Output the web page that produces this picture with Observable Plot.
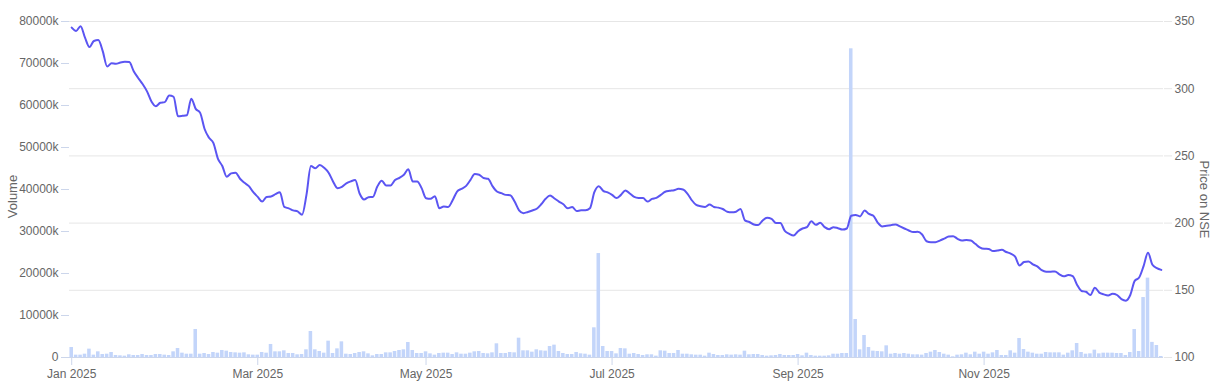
<!DOCTYPE html>
<html><head><meta charset="utf-8">
<script src="https://cdn.jsdelivr.net/npm/d3@7"></script>
<script src="https://cdn.jsdelivr.net/npm/@observablehq/plot@0.6"></script>
<style>body{margin:0;background:#fff;} #chart{width:1224px;height:390px;}</style>
</head><body><div id="chart"></div>
<script>
// Daily traded volume (thousands of shares), one per trading day
const volume = [
  2380, 560, 560, 790, 1990, 560, 1350, 710, 790, 1190,
  480, 400, 320, 640, 480, 480, 710, 480, 480, 710,
  710, 560, 480, 1350, 2140, 1030, 790, 790, 6670, 790,
  950, 710, 1190, 1030, 1670, 1510, 1190, 1110, 1030, 1110,
  640, 560, 560, 1190, 1030, 3100, 1350, 1350, 1590, 950,
  950, 640, 710, 1830, 6190, 1830, 1430, 1030, 3890, 950,
  2060, 3730, 790, 710, 950, 1190, 1350, 870, 400, 710,
  710, 1110, 1110, 1430, 1670, 1830, 3570, 1670, 950, 950,
  1350, 870, 560, 950, 1030, 1030, 710, 1110, 790, 790,
  1030, 1350, 1430, 950, 870, 1110, 3260, 950, 950, 1190,
  1110, 4600, 1590, 1590, 1270, 1830, 1590, 1510, 2620, 2940,
  1430, 950, 710, 710, 1190, 870, 790, 560, 7070, 24750,
  2620, 1430, 1430, 870, 2140, 2060, 790, 950, 710, 480,
  640, 640, 320, 1590, 1510, 950, 950, 1670, 790, 790,
  640, 560, 560, 320, 1030, 710, 480, 480, 640, 560,
  640, 560, 1510, 640, 710, 710, 480, 320, 400, 480,
  710, 480, 480, 480, 710, 400, 1030, 480, 320, 320,
  320, 400, 790, 790, 950, 950, 73500, 9050, 1830, 5240,
  2380, 1510, 1430, 1350, 2780, 790, 950, 790, 950, 790,
  640, 640, 560, 950, 1270, 1670, 1190, 790, 560, 160,
  560, 640, 1030, 640, 1270, 790, 1270, 790, 1110, 1670,
  480, 480, 1590, 1030, 4520, 1900, 1270, 1030, 790, 790,
  1190, 1110, 1110, 1110, 560, 1030, 1590, 3330, 1190, 790,
  870, 1750, 870, 1030, 1030, 1030, 950, 950, 480, 1190,
  6660, 1430, 14280, 18900, 3600, 2860, 240
];
// Closing price on NSE, one per trading day
const price = [
  345.5, 343, 346.5, 338, 331, 335.5, 336.2, 328, 316.5, 319,
  318.5, 319.5, 320, 319.8, 313, 308, 303.5, 298, 290.5, 287,
  289.5, 290, 295, 294, 279.5, 279.8, 280.3, 292.5, 285, 282,
  270, 263.5, 259.5, 248, 242.5, 234.5, 237, 237.5, 233, 230,
  227.5, 223, 219.5, 216, 219.5, 219.8, 221.5, 223, 212, 211,
  209.5, 208.7, 206.2, 221, 242.5, 240.8, 243.2, 241.2, 237.5, 231,
  226, 227, 229.5, 231, 232, 222, 217.5, 219.3, 219.5, 227.2,
  231.5, 228, 228, 232, 233.7, 236, 240, 231, 231, 226,
  218.5, 218.1, 220, 211, 212.4, 212, 217, 223.5, 225.5, 227.5,
  232, 236.5, 236, 233.5, 233, 227.5, 223.5, 222.3, 221, 220.8,
  216, 209.5, 207.4, 208.3, 209.4, 210.7, 214, 218.1, 220.5, 218.3,
  216, 214, 211, 212, 209, 209.5, 209.5, 211, 223, 227.5,
  224, 222.8, 221, 218.6, 221, 224.3, 222, 219.5, 218.7, 218.6,
  216, 218, 218.8, 221, 223.3, 224, 224.5, 225.5, 225, 222,
  217, 213.5, 212.5, 212, 213.8, 212, 211.5, 210.5, 208.5, 208.1,
  208.5, 210.5, 202, 200.8, 199, 198.5, 202, 204, 203.2, 200,
  200, 194.2, 192, 190.8, 194, 196, 197, 201.3, 198.7, 200.2,
  197, 195.5, 197, 196.2, 195.2, 196, 205.5, 206, 205, 209.4,
  206.8, 205.5, 200.2, 197.5, 198, 198.5, 199, 197.5, 196, 194.5,
  193.3, 193.5, 191.5, 186.5, 185.8, 185.8, 187, 188.5, 190, 190.3,
  188.3, 187, 187.5, 187, 184.6, 182, 180.9, 180.8, 179.2, 179.6,
  180.1, 178.5, 177.3, 175, 168.5, 171, 171.5, 169.3, 167.8, 165,
  163.8, 163.8, 164, 161.8, 160.4, 161.3, 160.5, 154, 149.5, 148.9,
  146.5, 151.9, 148.3, 147, 146.2, 147.5, 146.5, 143.5, 142.3, 146.5,
  157, 159.5, 168, 178, 169, 166.5, 165.2
];
// x-axis: trading-day index of the first session of each labelled month
const monthTickIndex = [0, 42, 80, 122, 164, 206];
const monthTickLabels = ["Jan 2025", "Mar 2025", "May 2025", "Jul 2025", "Sep 2025", "Nov 2025"];
const volumeTicks = [0, 10000, 20000, 30000, 40000, 50000, 60000, 70000, 80000];
const priceTicks = [100, 150, 200, 250, 300, 350];

const PMIN = 100, PMAX = 350, VMAX = 80000;
const volToY = v => PMIN + v / VMAX * (PMAX - PMIN);
const yToVol = y => Math.round((y - PMIN) / (PMAX - PMIN) * VMAX);
const data = price.map((p, i) => ({i, price: p, vol: volume[i]}));

const chart = Plot.plot({
  width: 1224, height: 390,
  marginLeft: 69, marginRight: 61, marginTop: 21, marginBottom: 33,
  style: {fontFamily: "'Liberation Sans', Arial, sans-serif", fontSize: "12px", color: "#666666", background: "#ffffff", overflow: "visible"},
  x: {domain: [-0.5, price.length - 0.5], axis: null},
  y: {domain: [PMIN, PMAX], axis: null},
  marks: [
    Plot.gridY(priceTicks, {stroke: "#e6e6e6", strokeOpacity: 1}),
    Plot.rectY(data, {x1: d => d.i - 0.4, x2: d => d.i + 0.4, y1: PMIN, y2: d => volToY(d.vol), fill: "#c3d5fa"}),
    Plot.ruleY([PMIN], {stroke: "#ccd6eb"}),
    Plot.line(data, {x: "i", y: "price", stroke: "#5b55f2", strokeWidth: 2, curve: "monotone-x"}),
    Plot.axisY(priceTicks, {anchor: "right", tickSize: 8, tickPadding: 3, stroke: "#e6e6e6", strokeOpacity: 1, fill: "#666666", label: null, tickFormat: d => String(d)}),
    Plot.axisY(volumeTicks.map(volToY), {anchor: "left", tickSize: 8, tickPadding: 3, stroke: "#ccd6eb", strokeOpacity: 1, fill: "#666666", label: null,
      tickFormat: y => { const v = yToVol(y); return v === 0 ? "0" : v + "k"; }}),
    Plot.axisX(monthTickIndex, {anchor: "bottom", tickSize: 8, tickPadding: 4, stroke: "#ccd6eb", strokeOpacity: 1, fill: "#666666", label: null,
      tickFormat: i => monthTickLabels[monthTickIndex.indexOf(i)]}),
    Plot.text(["Volume"], {frameAnchor: "left", textAnchor: "middle", lineAnchor: "middle", dx: -57, dy: 7, rotate: -90, fill: "#666666", fontSize: 13}),
    Plot.text(["Price on NSE"], {frameAnchor: "right", textAnchor: "middle", lineAnchor: "middle", dx: 41, dy: 10, rotate: 90, fill: "#666666", fontSize: 13})
  ]
});
document.getElementById("chart").appendChild(chart);
</script>
</body></html>
